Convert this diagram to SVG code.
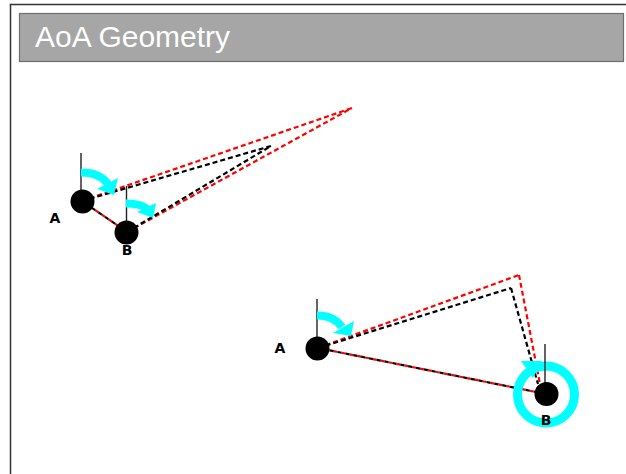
<svg xmlns="http://www.w3.org/2000/svg" width="626" height="474" viewBox="0 0 626 474">
<defs>
<style>
.frame{fill:none;stroke:#333;stroke-width:1.5}
.bar{fill:#a6a6a6;stroke:#6e6e6e;stroke-width:1.2}
.title{font-family:"Liberation Sans",Arial,sans-serif;font-size:30px;fill:#fff}
.red{fill:none;stroke:#f00;stroke-width:2.2;stroke-dasharray:5 3}
.blk{fill:none;stroke:#000;stroke-width:2.2;stroke-dasharray:5 3}
.blk2{fill:none;stroke:#000;stroke-width:2.2;stroke-dasharray:4 4;stroke-dashoffset:4}
.red2{fill:none;stroke:#f00;stroke-width:2.2;stroke-dasharray:4 4}
.pole{stroke:#222;stroke-width:1.4}
.dot{fill:#000}
.lbl{font-family:"DejaVu Sans",sans-serif;font-weight:bold;font-size:14px;fill:#000;text-anchor:middle}
.cyan{fill:none;stroke:#0ff;stroke-width:8}
.head{fill:#0ff}
</style>
</defs>
<path class="frame" d="M10.5,474 V4.5 H626"/>
<rect class="bar" x="19.5" y="13.5" width="604" height="48"/>
<text class="title" x="35" y="47">AoA Geometry</text>

<g id="connectors">
<line class="red2" x1="82" y1="201" x2="127" y2="232"/>
<line class="blk2" x1="82" y1="201" x2="127" y2="232"/>
<line class="red" x1="82" y1="201" x2="352" y2="108"/>
<line class="blk" x1="82" y1="201" x2="271" y2="146"/>
<line class="red" x1="127" y1="232" x2="352" y2="108"/>
<line class="blk" x1="127" y1="232" x2="271" y2="146"/>

<line class="red2" x1="318" y1="348" x2="546" y2="394"/>
<line class="blk2" x1="318" y1="348" x2="546" y2="394"/>
<line class="red" x1="318" y1="348" x2="519" y2="275"/>
<line class="blk" x1="318" y1="348" x2="511" y2="288"/>
<polyline class="red" points="519,275 540,384"/>
<polyline class="blk" points="511,288 538,384"/>
</g>

<g id="nodeA1">
<line class="pole" x1="81" y1="153" x2="81" y2="195"/>
<path class="cyan" d="M81,172.5 C95,172.5 103,177 108,184"/>
<polygon class="head" points="97,189 118,178 114,195"/>
<circle class="dot" cx="82.5" cy="201.5" r="12"/>
<text class="lbl" x="55" y="223">A</text>
</g>

<g id="nodeB1">
<line class="pole" x1="126.5" y1="186" x2="126.5" y2="225"/>
<path class="cyan" d="M126,203.5 C137,203.5 143,205 147,209"/>
<polygon class="head" points="137,212 156,203 153,218"/>
<circle class="dot" cx="126.5" cy="232.5" r="12"/>
<text class="lbl" x="127" y="255">B</text>
</g>

<g id="nodeA2">
<line class="pole" x1="317" y1="299" x2="317" y2="342"/>
<path class="cyan" d="M317,315.5 C330,315.5 337,320 342,327"/>
<polygon class="head" points="333,333 354,321 351,336"/>
<circle class="dot" cx="317.5" cy="348.5" r="12"/>
<text class="lbl" x="280" y="353">A</text>
</g>

<g id="nodeB2">
<circle cx="546" cy="394.5" r="28.5" fill="none" stroke="#0ff" stroke-width="9"/>
<polygon class="head" points="521,361 542,361 533,378"/>
<line class="pole" x1="545" y1="344" x2="545" y2="388"/>
<circle class="dot" cx="546.5" cy="394" r="12"/>
<text class="lbl" x="546" y="425">B</text>
</g>
</svg>
